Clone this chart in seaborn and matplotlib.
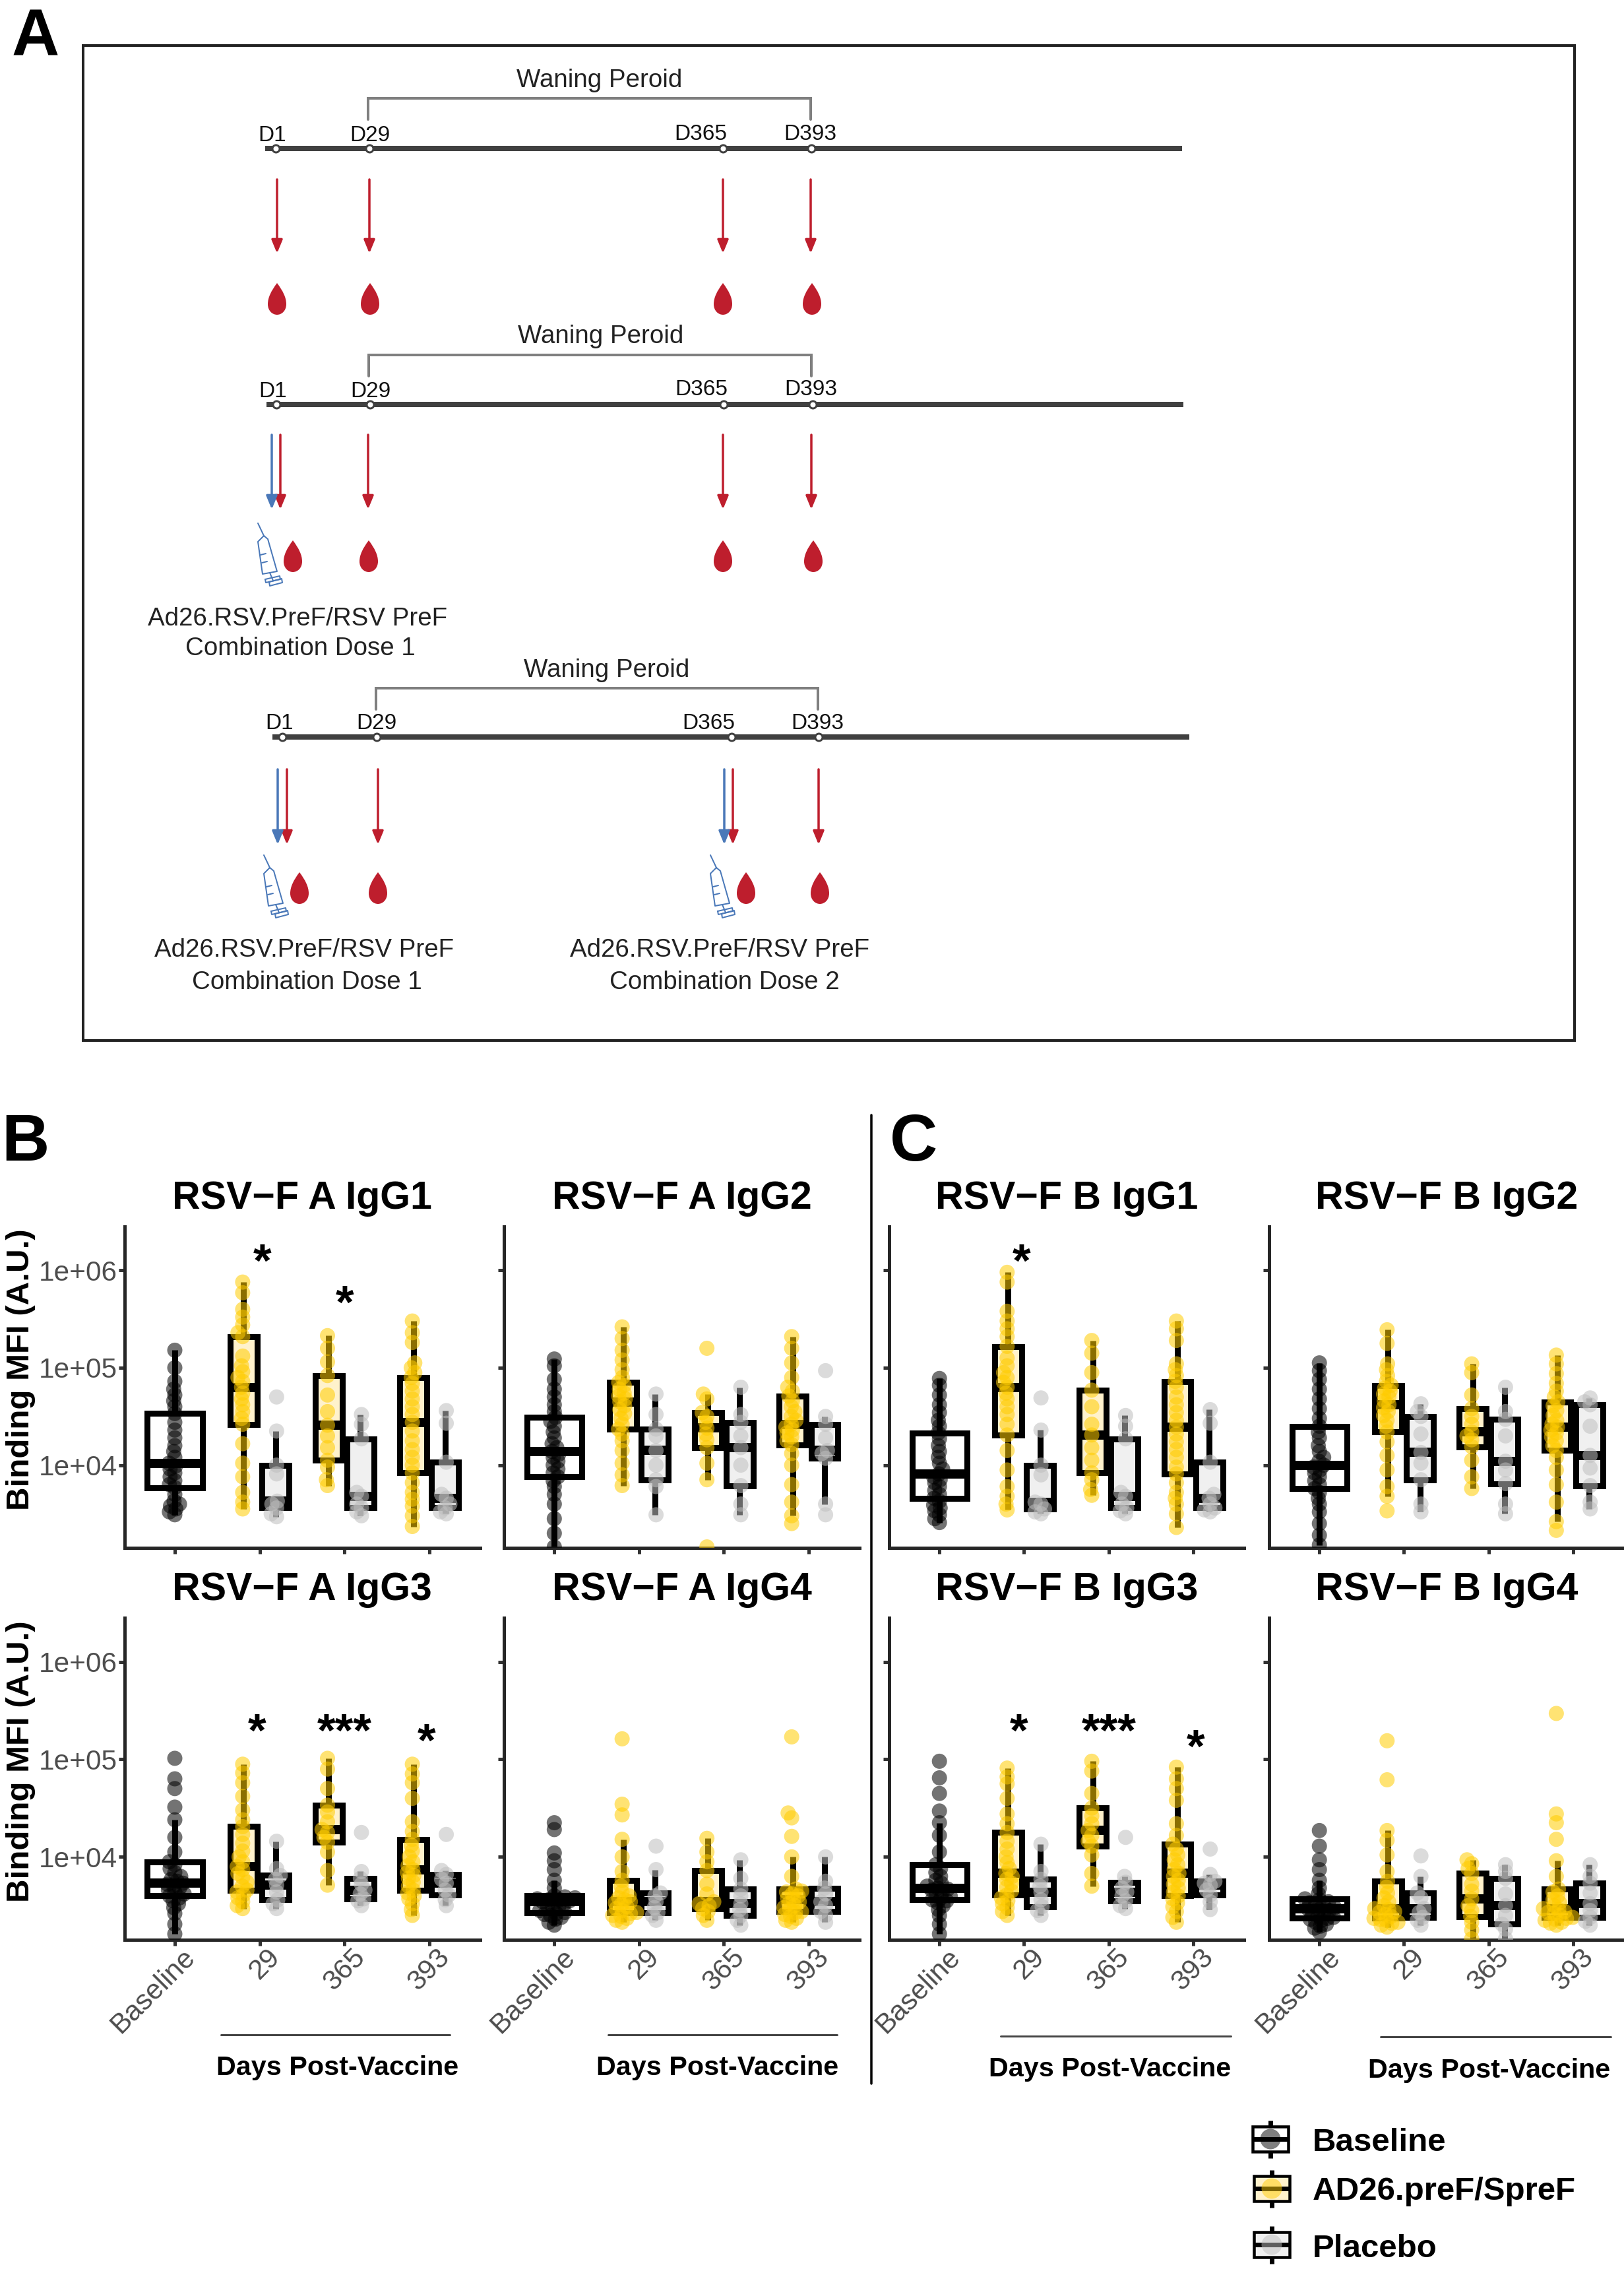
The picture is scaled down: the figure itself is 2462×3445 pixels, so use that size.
import numpy as np
import pandas as pd
import matplotlib
matplotlib.use('Agg')
import matplotlib.pyplot as plt
import seaborn as sns
from matplotlib.patches import FancyArrowPatch, PathPatch, Rectangle, Circle
from matplotlib.path import Path
from matplotlib.transforms import ScaledTranslation

# values are log10 of the binding MFI
a1_base = [3.49,3.52,3.55,3.58,3.60,3.63,3.70,3.77,3.80,3.84,3.88,3.92,3.96,3.99,4.02,4.08,4.14,4.20,4.28,4.36,4.44,4.53,4.60,4.66,4.72,4.78,4.86,5.00,5.18]
a1_ad29 = [3.55,3.62,3.72,3.88,4.02,4.22,4.42,4.48,4.55,4.62,4.68,4.74,4.80,4.86,4.90,4.96,5.02,5.12,5.32,5.36,5.44,5.52,5.60,5.77,5.88]
a1_pl29 = [3.47,3.50,3.56,3.60,3.63,3.91,4.00,4.35,4.70]
a1_ad365 = [3.79,3.85,3.98,4.05,4.18,4.30,4.41,4.55,4.72,4.92,5.06,5.20,5.33]
a1_pl365 = [3.48,3.52,3.56,3.60,3.68,3.72,4.27,4.42,4.52]
a1_ad393 = [3.37,3.48,3.58,3.65,3.72,3.82,3.92,4.00,4.08,4.16,4.25,4.35,4.44,4.52,4.60,4.68,4.76,4.84,4.90,4.95,5.00,5.05,5.26,5.36,5.48]
a1_pl393 = [3.50,3.52,3.56,3.60,3.66,3.70,4.03,4.43,4.56]

a2_base = [3.16,3.30,3.45,3.60,3.70,3.78,3.84,3.88,3.92,3.96,4.00,4.04,4.08,4.11,4.14,4.18,4.22,4.28,4.34,4.40,4.45,4.49,4.55,4.62,4.70,4.78,4.88,5.02,5.09]
a2_ad29 = [3.79,3.90,4.02,4.15,4.25,4.32,4.37,4.42,4.48,4.53,4.57,4.61,4.65,4.68,4.71,4.74,4.78,4.82,4.85,4.90,4.98,5.08,5.18,5.30,5.42]
a2_pl29 = [3.49,3.78,3.85,4.00,4.15,4.30,4.37,4.52,4.73]
a2_ad365 = [3.16,3.85,4.02,4.18,4.26,4.32,4.38,4.44,4.50,4.54,4.68,4.73,5.20]
a2_pl365 = [3.49,3.60,3.79,4.00,4.18,4.30,4.44,4.52,4.80]
a2_ad393 = [3.40,3.48,3.62,3.80,4.00,4.12,4.21,4.25,4.29,4.33,4.36,4.39,4.42,4.46,4.50,4.55,4.60,4.66,4.71,4.76,4.80,4.90,5.05,5.20,5.32]
a2_pl393 = [3.49,3.60,4.07,4.12,4.15,4.28,4.42,4.50,4.97]

a3_base = [3.21,3.31,3.42,3.48,3.52,3.55,3.58,3.60,3.62,3.64,3.66,3.68,3.70,3.72,3.73,3.75,3.77,3.80,3.84,3.88,3.92,3.95,4.05,4.20,4.38,4.51,4.70,4.80,5.01]
a3_ad29 = [3.47,3.50,3.54,3.58,3.61,3.64,3.66,3.70,3.74,3.79,3.83,3.87,3.90,3.95,4.00,4.06,4.14,4.23,4.31,4.38,4.48,4.62,4.76,4.86,4.95]
a3_pl29 = [3.47,3.52,3.56,3.64,3.71,3.77,3.81,3.88,4.16]
a3_ad365 = [3.71,3.86,4.05,4.15,4.20,4.25,4.28,4.36,4.46,4.53,4.70,4.90,5.01]
a3_pl365 = [3.50,3.55,3.57,3.62,3.66,3.72,3.78,3.85,4.25]
a3_ad393 = [3.40,3.46,3.52,3.57,3.60,3.63,3.66,3.70,3.74,3.78,3.81,3.84,3.87,3.91,3.95,4.00,4.06,4.12,4.18,4.26,4.36,4.60,4.76,4.85,4.95]
a3_pl393 = [3.50,3.56,3.61,3.66,3.73,3.77,3.82,3.86,4.23]

a4_base = [3.30,3.33,3.36,3.38,3.40,3.41,3.42,3.43,3.45,3.47,3.49,3.50,3.52,3.53,3.54,3.55,3.56,3.56,3.57,3.58,3.59,3.60,3.68,3.76,3.87,3.96,4.04,4.28,4.35]
a4_ad29 = [3.33,3.35,3.37,3.39,3.40,3.42,3.43,3.45,3.47,3.49,3.51,3.53,3.54,3.56,3.58,3.60,3.64,3.70,3.76,3.85,4.00,4.18,4.43,4.54,5.21]
a4_pl29 = [3.35,3.40,3.43,3.48,3.54,3.60,3.63,3.87,4.11]
a4_ad365 = [3.35,3.40,3.44,3.47,3.50,3.52,3.54,3.62,3.72,3.86,3.95,4.05,4.19]
a4_pl365 = [3.30,3.35,3.40,3.46,3.52,3.60,3.67,3.78,3.97]
a4_ad393 = [3.33,3.35,3.37,3.39,3.41,3.43,3.44,3.46,3.48,3.50,3.52,3.54,3.56,3.58,3.60,3.62,3.64,3.65,3.67,3.80,4.00,4.21,4.40,4.45,5.23]
a4_pl393 = [3.33,3.40,3.44,3.50,3.54,3.62,3.68,3.75,4.00]

b1_base = [3.41,3.45,3.49,3.53,3.56,3.59,3.63,3.66,3.70,3.74,3.78,3.82,3.85,3.88,3.91,3.96,4.02,4.08,4.14,4.20,4.27,4.33,4.40,4.46,4.54,4.62,4.72,4.82,4.89]
b1_ad29 = [3.54,3.60,3.68,3.78,3.95,4.15,4.31,4.42,4.52,4.60,4.68,4.74,4.80,4.85,4.90,4.95,5.02,5.10,5.22,5.32,5.40,5.48,5.58,5.88,5.98]
b1_pl29 = [3.50,3.52,3.55,3.60,3.62,3.90,4.00,4.36,4.69]
b1_ad365 = [3.69,3.75,3.85,3.92,4.05,4.18,4.31,4.42,4.60,4.77,4.95,5.15,5.28]
b1_pl365 = [3.50,3.53,3.56,3.60,3.68,3.72,4.27,4.40,4.51]
b1_ad393 = [3.36,3.50,3.60,3.66,3.72,3.82,3.91,3.98,4.08,4.16,4.24,4.32,4.39,4.46,4.54,4.62,4.70,4.80,4.86,4.92,4.98,5.04,5.28,5.40,5.48]
b1_pl393 = [3.52,3.54,3.56,3.60,3.66,3.70,4.03,4.43,4.57]

b2_base = [3.18,3.28,3.40,3.52,3.60,3.66,3.72,3.76,3.80,3.84,3.88,3.92,3.95,3.98,4.00,4.04,4.08,4.14,4.20,4.28,4.34,4.40,4.48,4.58,4.68,4.78,4.88,4.97,5.05]
b2_ad29 = [3.53,3.68,3.78,3.95,4.10,4.24,4.34,4.40,4.46,4.51,4.55,4.59,4.62,4.66,4.70,4.73,4.76,4.79,4.82,4.86,4.92,4.98,5.04,5.25,5.39]
b2_pl29 = [3.52,3.60,3.85,4.02,4.13,4.32,4.50,4.55,4.63]
b2_ad365 = [3.76,3.88,4.05,4.19,4.26,4.30,4.34,4.42,4.50,4.58,4.72,4.95,5.04]
b2_pl365 = [3.50,3.60,3.81,3.95,4.04,4.30,4.47,4.55,4.80]
b2_ad393 = [3.33,3.42,3.62,3.80,3.95,4.08,4.15,4.20,4.25,4.29,4.33,4.36,4.39,4.42,4.46,4.51,4.56,4.61,4.65,4.70,4.76,4.84,4.94,5.04,5.13]
b2_pl393 = [3.55,3.62,3.79,3.97,4.10,4.40,4.62,4.65,4.69]

b3_base = [3.21,3.31,3.40,3.46,3.50,3.53,3.55,3.56,3.58,3.60,3.62,3.64,3.66,3.67,3.68,3.70,3.73,3.76,3.80,3.84,3.88,3.92,4.05,4.22,4.35,4.47,4.65,4.81,4.98]
b3_ad29 = [3.40,3.44,3.48,3.52,3.55,3.58,3.61,3.65,3.69,3.73,3.77,3.80,3.83,3.88,3.94,4.00,4.08,4.16,4.25,4.34,4.44,4.60,4.75,4.82,4.91]
b3_pl29 = [3.40,3.45,3.49,3.56,3.64,3.70,3.77,3.85,4.13]
b3_ad365 = [3.70,3.83,4.02,4.11,4.16,4.22,4.27,4.34,4.42,4.50,4.65,4.88,4.98]
b3_pl365 = [3.47,3.50,3.55,3.60,3.64,3.68,3.74,3.80,4.20]
b3_ad393 = [3.33,3.38,3.44,3.49,3.53,3.57,3.60,3.64,3.68,3.72,3.76,3.80,3.83,3.87,3.92,3.97,4.02,4.08,4.13,4.22,4.34,4.58,4.70,4.80,4.92]
b3_pl393 = [3.46,3.54,3.61,3.66,3.71,3.73,3.75,3.82,4.08]

b4_base = [3.23,3.27,3.29,3.31,3.33,3.35,3.36,3.37,3.38,3.40,3.42,3.43,3.45,3.46,3.47,3.48,3.50,3.51,3.53,3.54,3.56,3.57,3.62,3.68,3.76,3.87,3.97,4.11,4.27]
b4_ad29 = [3.28,3.30,3.32,3.33,3.35,3.36,3.37,3.39,3.41,3.43,3.44,3.46,3.47,3.50,3.54,3.58,3.63,3.69,3.75,3.85,4.02,4.17,4.27,4.79,5.19]
b4_pl29 = [3.30,3.35,3.38,3.43,3.47,3.58,3.63,3.80,4.01]
b4_ad365 = [3.16,3.25,3.33,3.39,3.45,3.50,3.57,3.65,3.72,3.83,3.88,3.93,3.97]
b4_pl365 = [3.16,3.26,3.31,3.40,3.50,3.62,3.78,3.85,3.92]
b4_ad393 = [3.30,3.32,3.33,3.35,3.36,3.37,3.38,3.40,3.42,3.43,3.44,3.46,3.47,3.50,3.53,3.56,3.60,3.64,3.67,3.80,3.96,4.18,4.35,4.44,5.47]
b4_pl393 = [3.30,3.34,3.38,3.45,3.52,3.63,3.73,3.80,3.92]

days = ['Baseline', '29', '365', '393']
arms = ['AD26.preF/SpreF', 'Placebo']
titles = ['RSV\u2212F A IgG1', 'RSV\u2212F A IgG2', 'RSV\u2212F A IgG3', 'RSV\u2212F A IgG4',
          'RSV\u2212F B IgG1', 'RSV\u2212F B IgG2', 'RSV\u2212F B IgG3', 'RSV\u2212F B IgG4']
panel_data = [
    [a1_base, a1_ad29, a1_pl29, a1_ad365, a1_pl365, a1_ad393, a1_pl393],
    [a2_base, a2_ad29, a2_pl29, a2_ad365, a2_pl365, a2_ad393, a2_pl393],
    [a3_base, a3_ad29, a3_pl29, a3_ad365, a3_pl365, a3_ad393, a3_pl393],
    [a4_base, a4_ad29, a4_pl29, a4_ad365, a4_pl365, a4_ad393, a4_pl393],
    [b1_base, b1_ad29, b1_pl29, b1_ad365, b1_pl365, b1_ad393, b1_pl393],
    [b2_base, b2_ad29, b2_pl29, b2_ad365, b2_pl365, b2_ad393, b2_pl393],
    [b3_base, b3_ad29, b3_pl29, b3_ad365, b3_pl365, b3_ad393, b3_pl393],
    [b4_base, b4_ad29, b4_pl29, b4_ad365, b4_pl365, b4_ad393, b4_pl393],
]
# significance marks: x slot, log10 height of the text baseline, text
stars = [
    [(1.03, 5.94, '*'), (2.0, 5.51, '*')],
    [],
    [(0.97, 5.13, '*'), (2.0, 5.13, '***'), (2.97, 5.03, '*')],
    [],
    [(0.97, 5.94, '*')],
    [],
    [(0.94, 5.13, '*'), (2.0, 5.13, '***'), (3.03, 4.97, '*')],
    [],
]

W, H = 2462, 3445
sns.set_theme(style='ticks')
plt.rcParams['font.family'] = ['Liberation Sans', 'DejaVu Sans']
fig = plt.figure(figsize=(W / 100, H / 100), dpi=100)

# px() sizes are pixels of the output, turned into points
def px(v):
    return v * 0.72

def make_axes(l, t, r, b):
    return fig.add_axes([l / W, 1 - b / H, (r - l) / W, (b - t) / H])

def long_table(groups):
    rows = []
    labels = [('Baseline', 'Baseline'), ('29', arms[0]), ('29', arms[1]), ('365', arms[0]),
              ('365', arms[1]), ('393', arms[0]), ('393', arms[1])]
    for (day, arm), vals in zip(labels, groups):
        for v in vals:
            rows.append({'day': day, 'arm': arm, 'mfi': 10 ** v})
    return pd.DataFrame(rows)

box_kw = dict(x='day', y='mfi', hue='arm', order=days, log_scale=True, saturation=1,
              linecolor='black', linewidth=px(9), showfliers=False, showcaps=False,
              medianprops={'linewidth': px(14)}, legend=False)
dot_kw = dict(x='day', y='mfi', hue='arm', order=days, log_scale=True, size=px(9), alpha=0.55,
              linewidth=0, zorder=3, legend=False, warn_thresh=1)
fill_colors = {'Baseline': 'white', arms[0]: '#FFF2CC', arms[1]: '#F0F0F0'}
dot_colors = {'Baseline': 'black', arms[0]: '#FFCC00', arms[1]: '#BFBFBF'}

col_x = [(188.6, 728), (764, 1303), (1348, 1886), (1924, 2462)]
rows_y = [(1859, 2346), (2452, 2940)]
slots = [(0, 0), (1, 0), (0, 1), (1, 1), (2, 0), (3, 0), (2, 1), (3, 1)]

axes = []
for i, (c, r) in enumerate(slots):
    ax = make_axes(col_x[c][0], rows_y[r][0], col_x[c][1], rows_y[r][1])
    axes.append(ax)
    df = long_table(panel_data[i])
    base = df[df.arm == 'Baseline']
    post = df[df.arm != 'Baseline']
    sns.boxplot(data=base, hue_order=['Baseline'], palette=fill_colors, width=0.65, ax=ax, **box_kw)
    sns.boxplot(data=post, hue_order=arms, palette=fill_colors, width=0.75, gap=0.15, ax=ax, **box_kw)
    sns.swarmplot(data=base, hue_order=['Baseline'], palette=dot_colors, ax=ax, **dot_kw)
    sns.swarmplot(data=post, hue_order=arms, palette=dot_colors, dodge=True, ax=ax, **dot_kw)

    ax.set_xlim(-0.594, 3.6)
    ax.set_ylim(10 ** 3.15, 10 ** 6.45)
    ax.set_yticks([1e4, 1e5, 1e6])
    ax.set_yticks([], minor=True)
    ax.set_xlabel('')
    ax.set_ylabel('')
    ax.tick_params(axis='both', length=px(9), width=px(5), color='#333333', labelcolor='#4D4D4D',
                   labelsize=30.5, pad=px(2))
    sns.despine(ax=ax)
    for s in ['left', 'bottom']:
        ax.spines[s].set_linewidth(px(5))
    ax.set_title(titles[i], fontsize=42.5, fontweight='bold', color='black', pad=px(27))
    if c == 0:
        ax.set_yticklabels(['1e+04', '1e+05', '1e+06'])
        ax.set_ylabel('Binding MFI (A.U.)', fontsize=35.5, fontweight='bold', color='black')
        ax.yaxis.set_label_coords(-0.25, 0.555)
    else:
        ax.tick_params(axis='y', labelleft=False)
    if r == 1:
        ax.set_xticks(range(4))
        ax.set_xticklabels(days)
        shift = ScaledTranslation(25 / 100, -9 / 100, fig.dpi_scale_trans)
        for lab in ax.get_xticklabels():
            lab.set(rotation=45, ha='right', va='center', rotation_mode='anchor')
            lab.set_transform(lab.get_transform() + shift)
    else:
        ax.tick_params(axis='x', labelbottom=False)
    for sx, sy, st in stars[i]:
        ax.text(sx, 10 ** sy, st, ha='center', va='baseline', fontsize=51, fontweight='bold', color='black', zorder=5)

# let the swarms settle with a small dot, then blow the dots up so they overlap
fig.canvas.draw()
for ax in axes:
    for col in ax.collections:
        col.__dict__.pop('draw', None)
        col.set_sizes([px(23) ** 2])

# overlay in output pixels for panel A, panel letters, x captions and legend
over = fig.add_axes([0, 0, 1, 1], zorder=5)
over.set_xlim(0, W)
over.set_ylim(H, 0)
over.set_axis_off()

RED = '#BE1E2D'
BLUE = '#4A78B8'
DARK = '#404040'

def drop(x, y):
    verts = [(x, y - 24), (x - 9, y - 12), (x - 14, y - 2), (x - 14, y + 8), (x - 14, y + 18), (x - 7, y + 24),
             (x, y + 24), (x + 7, y + 24), (x + 14, y + 18), (x + 14, y + 8), (x + 14, y - 2), (x + 9, y - 12), (x, y - 24)]
    codes = [Path.MOVETO] + [Path.CURVE4] * 12
    over.add_patch(PathPatch(Path(verts, codes), fc=RED, ec='none'))

def arrow(x, y0, y1, color=RED):
    over.add_patch(FancyArrowPatch((x, y0), (x, y1), mutation_scale=1, shrinkA=0, shrinkB=0,
                                   arrowstyle=f'-|>,head_length={px(17)},head_width={px(7)}',
                                   color=color, lw=px(3.5)))

def syringe(x, y):
    parts = [[(0, 0), (9, 19)],
             [(9, 19), (0, 28), (7, 77), (29, 73), (15, 24), (9, 19)],
             [(4, 48), (12, 46)], [(6, 60), (14, 58)],
             [(18, 75), (23, 87)],
             [(11, 85), (33, 80), (34, 85), (12, 90), (11, 85)],
             [(17, 89), (36, 84), (37, 90), (18, 95), (17, 89)]]
    for p in parts:
        p = np.array(p)
        over.plot(x + p[:, 0], y + p[:, 1], color=BLUE, lw=px(2))

def timeline(dx, y, xs, label_y, drop_y, drop_xs, red_xs, blue_xs, a0, a1, lab_xs):
    over.plot([402 + dx, 1792 + dx], [y, y], color=DARK, lw=px(8), solid_capstyle='butt')
    over.scatter(xs, [y] * 4, s=px(11) ** 2, fc='white', ec=DARK, lw=px(3), zorder=3)
    for xx, yy, t in zip(lab_xs, label_y, ['D1', 'D29', 'D365', 'D393']):
        over.text(xx, yy + 2, t, ha='center', va='center', fontsize=24, color='#111111')
    for xx in red_xs:
        arrow(xx, a0, a1)
    for xx in blue_xs:
        arrow(xx, a0, a1, BLUE)
    for xx in drop_xs:
        drop(xx, drop_y)

def bracket(x0, x1, y, y1, text_x, text_y):
    over.plot([x0, x0, x1, x1], [y1, y, y, y1], color='#7F7F7F', lw=px(4), solid_joinstyle='miter')
    over.text(text_x, text_y + 4, 'Waning Peroid', ha='center', va='center', fontsize=27.7, color='#222222')

def dose_text(x, y0, y1, x1, n):
    over.text(x, y0 + 2, 'Ad26.RSV.PreF/RSV PreF', ha='center', va='center', fontsize=27.7, color='#222222')
    over.text(x1, y1 + 2, f'Combination Dose {n}', ha='center', va='center', fontsize=27.7, color='#222222')

over.add_patch(Rectangle((126, 69), 2261, 1508, fc='none', ec='#222222', lw=px(4)))

timeline(0, 224.5, [418, 560, 1096, 1230], [203, 203, 201, 201], 453, [420, 561, 1096, 1231],
         [420, 560, 1096, 1229], [], 272, 384, [413, 561, 1062, 1228])
bracket(558, 1229, 149, 181, 909, 118)

timeline(2, 612.5, [419, 561, 1097, 1232], [591, 591, 588, 588], 843, [444, 559, 1096, 1233],
         [425, 558, 1096, 1230], [412], 659, 772, [414, 562, 1063, 1229])
bracket(559, 1230, 538, 570, 911, 506)
syringe(391, 793)
dose_text(451, 936, 981, 455, 1)

timeline(11, 1117, [428, 571, 1109, 1241], [1094, 1094, 1094, 1094], 1346, [454, 573, 1131, 1243],
         [435, 573, 1111, 1241], [421, 1098], 1166, 1280, [424, 571, 1074, 1239])
bracket(570, 1240, 1043, 1075, 920, 1012)
syringe(400, 1296)
syringe(1077, 1296)
dose_text(461, 1438, 1487, 465, 1)
dose_text(1091, 1438, 1487, 1098, 2)

for letter, lx, ly in [('A', 54, 58), ('B', 38, 1733), ('C', 1385, 1733)]:
    over.text(lx, ly, letter, ha='center', va='center', fontsize=72, fontweight='bold', color='black')

over.plot([1321, 1321], [1690, 3158], color='black', lw=px(3.5))

for x0, x1, y, tx, ty in [(335, 682, 3084, 512, 3134), (922, 1269, 3084, 1087.5, 3134),
                          (1517, 1866, 3086, 1682.5, 3136), (2093, 2442, 3087, 2258, 3138)]:
    over.plot([x0, x1], [y, y], color='#444444', lw=px(3))
    over.text(tx, ty, 'Days Post-Vaccine', ha='center', va='center', fontsize=29.7, fontweight='bold', color='black')

# legend keys drawn the same way as the boxes
for name, kx, ky, ty in [('Baseline', 1926, 3242, 3247), (arms[0], 1928, 3317, 3321), (arms[1], 1928, 3402, 3408)]:
    over.plot([kx, kx], [ky - 28.5, ky + 28.5], color='black', lw=px(7), solid_capstyle='butt', zorder=1)
    over.add_patch(Rectangle((kx - 27, ky - 19), 54, 38, fc=fill_colors[name], ec='black', lw=px(4.5), zorder=2))
    over.plot([kx - 27, kx + 27], [ky, ky], color='black', lw=px(7), solid_capstyle='butt', zorder=3)
    over.add_patch(Circle((kx, ky), 15.5, fc=dot_colors[name], ec='none', alpha=0.5, zorder=4))
    over.text(1990, ty, name, ha='left', va='center', fontsize=35.5, fontweight='bold', color='black')

fig.savefig('out.png', dpi=100)
